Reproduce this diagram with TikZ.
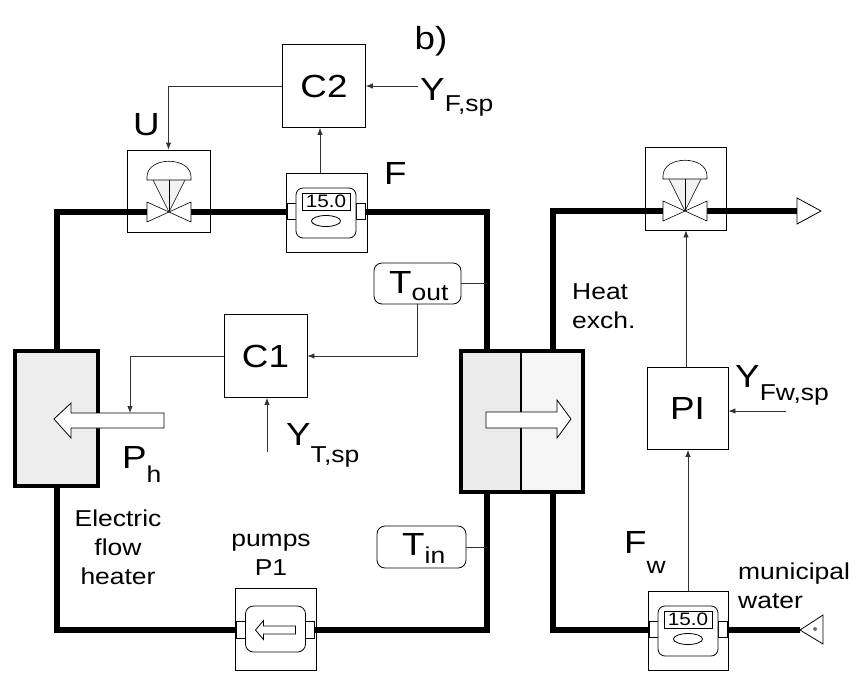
\documentclass[tikz,border=0pt]{standalone}
\usepackage{fontspec}
\setmainfont{Liberation Sans}[FakeStretch=1.15]
\usetikzlibrary{arrows.meta}
\newcommand\fbig{\fontsize{32}{32}\selectfont}
\newcommand\fmid{\fontsize{23}{29}\selectfont}
\newcommand\lowsub[2]{\raisebox{-#1pt}{\fontsize{23}{23}\selectfont #2}}
\tikzset{
  sig/.style={line width=0.8pt, draw=black!80},
  sigarrow/.style={sig, -{Latex[length=7pt,width=5.5pt]}},
  pipe/.style={line width=6.5pt},
  ctrl/.style={draw, line width=0.8pt, minimum width=83pt, minimum height=83pt, inner sep=0pt, font=\fbig},
  frame/.style={draw, line width=0.8pt, inner sep=0pt},
  tbox/.style={draw, line width=0.8pt, rounded corners=8pt, inner sep=0pt},
  lbl/.style={inner sep=0pt, font=\fbig},
  txt/.style={inner sep=0pt, font=\fmid},
  valvesym/.pic={
    \draw[line width=0.6pt, fill=black!5] (-16,-32) -- (0,0) -- (16,-32);
    \draw[line width=0.6pt] (0,-32) -- (0,0);
    \draw[line width=0.6pt, fill=white] (-22,-10) -- (-22,10) -- (0,0) -- cycle;
    \draw[line width=0.6pt, fill=white] (22,-10) -- (22,10) -- (0,0) -- cycle;
    \draw[line width=0.6pt, fill=white] (-22,-32) -- (-22,-35) .. controls (-22,-56) and (22,-56) .. (22,-35) -- (22,-32) -- cycle;
  },
  metersym/.pic={
    \draw[fill=white, line width=0.6pt] (-39,-9) rectangle (-30,7);
    \draw[fill=white, line width=0.6pt] (30,-9) rectangle (39,7);
    \draw[fill=white, line width=0.8pt, rounded corners=7pt] (-30,-24) rectangle (30,26);
    \draw[line width=0.8pt] (-24,-19) rectangle (24,-2);
    \node[inner sep=0pt, font=\fontsize{18}{18}\selectfont] (-disp) at (0,-10.5) {15.0};
    \draw[line width=0.8pt] (0,9) ellipse [x radius=14.5, y radius=5.5];
  },
  pumpsym/.pic={
    \draw[fill=white, line width=0.6pt] (-39,-9) rectangle (-30,8);
    \draw[fill=white, line width=0.6pt] (30,-9) rectangle (39,8);
    \draw[fill=white, line width=0.8pt, rounded corners=8pt] (-30,-24) rectangle (30,22);
    \draw[fill=white, line width=0.8pt] (-20,0) -- (-12,-9.5) -- (-12,-4) -- (20,-4) -- (20,4) -- (-12,4) -- (-12,9.5) -- cycle;
  },
}
\begin{document}
\begin{tikzpicture}[x=1pt,y=-1pt]
\useasboundingbox (0,0) rectangle (856,673);
% frames (unfilled)
\node[frame, minimum width=83pt, minimum height=82pt] (valveL) at (168.5,191) {};
\node[frame, minimum width=81pt, minimum height=83pt] (valveR) at (685.5,188.5) {};
\node[frame, minimum width=81pt, minimum height=79pt] (fmeter) at (326.5,212.5) {};
\node[frame, minimum width=81pt, minimum height=82pt] (pump) at (275.5,629) {};
\node[frame, minimum width=80pt, minimum height=79pt] (fwmeter) at (688,630.5) {};
% pipes
\coordinate (vLl) at (147,212); \coordinate (vLr) at (191,212);
\coordinate (fml) at (287,212); \coordinate (fmr) at (365,212);
\coordinate (pl) at (237,630); \coordinate (pr) at (313,630);
\coordinate (hTop) at (57,349); \coordinate (hBot) at (57,488);
\coordinate (xTopL) at (487,349); \coordinate (xBotL) at (487,494);
\coordinate (xTopR) at (553,349); \coordinate (xBotR) at (553,494);
\coordinate (vRl) at (663,211); \coordinate (vRr) at (707,211);
\coordinate (outTip) at (797,211);
\coordinate (fwl) at (648,630); \coordinate (fwr) at (728,630);
\coordinate (inTip) at (800,630);
\draw[pipe] (vLl) -| (hTop);
\draw[pipe] (hBot) |- (pl);
\draw[pipe] (pr) -| (xBotL);
\draw[pipe] (xTopL) |- (fmr);
\draw[pipe] (vLr) -- (fml);
\draw[pipe] (fwl) -| (xBotR);
\draw[pipe] (xTopR) |- (vRl);
\draw[pipe] (vRr) -- (outTip);
\draw[pipe] (fwr) -- (inTip);
% heater
\node[draw, line width=4pt, fill=black!7, minimum width=83pt, minimum height=135pt, inner sep=0pt] (heater) at (56.5,418.5) {};
% heat exchanger
\node[fill=black!4, minimum width=122pt, minimum height=141pt, inner sep=0pt] (hx) at (522,421.5) {};
\fill[black!8] (hx.north west) rectangle (521,492);
\draw[line width=3.5pt] (hx.north west) rectangle (hx.south east);
\draw[line width=2.5pt] (521,351) -- (521,492);
% big arrows
\draw[line width=0.8pt, fill=white] (54,419) -- (71,403) -- (71,413) -- (164,413) -- (164,428) -- (71,428) -- (71,438) -- cycle;
\draw[line width=0.8pt, fill=white] (571,419) -- (557,400) -- (557,412) -- (486,412) -- (486,428) -- (557,428) -- (557,438) -- cycle;
% end symbols
\draw[line width=0.8pt, fill=white] (797,198) -- (821,211) -- (797,224) -- cycle;
\draw[line width=0.8pt, fill=white] (inTip) -- (823,615) -- (823,644) -- cycle;
\fill[black!55] (815,629) circle [radius=2];
% symbols
\pic (vl) at (169,212) {valvesym};
\pic (vr) at (685,211) {valvesym};
\pic (fm) at (326,212) {metersym};
\pic (fw) at (688,630) {metersym};
\pic (pu) at (275.5,630) {pumpsym};
% controllers
\node[ctrl] (c2) at (324,86) {C2};
\node[ctrl] (c1) at (265.5,356) {C1};
\node[ctrl, minimum width=81pt, minimum height=82pt] (pi) at (687.5,408.5) {PI};
% temperature sensors
\node[tbox, minimum width=87pt, minimum height=41pt] (tout) at (417.5,283.5) {};
\node[tbox, minimum width=89pt, minimum height=42pt] (tin) at (421.5,547) {};
\node[lbl, anchor=base west] (toutlbl) at (389,293) {T\lowsub{7}{out}};
\node[lbl, anchor=base west] (tinlbl) at (402,555) {T\lowsub{8}{in}};
\coordinate (toutp) at (487,283.5);
\coordinate (tinp) at (487,547);
\draw[sig] (tout.east) -- (toutp);
\draw[sig] (tin.east) -- (tinp);
% signal lines
\coordinate (yfsp) at (418,86);
\coordinate (ytsp) at (267,452);
\coordinate (yfwsp) at (786,411);
\coordinate (harr) at (130,413);
\draw[sigarrow] (c2.west) -| (valveL.north);
\draw[sigarrow] (yfsp) -- (c2.east);
\draw[sigarrow] ([xshift=-6.5pt]fmeter.north) -- ([xshift=-6.5pt]fmeter.north |- c2.south);
\draw[sigarrow] (tout.south) |- (c1.east);
\draw[sigarrow] (c1.west) -| (harr);
\draw[sigarrow] (ytsp) -- (ytsp |- c1.south);
\draw[sigarrow] ([xshift=-1.5pt]pi.north) -- ([xshift=-1.5pt]pi.north |- valveR.south);
\draw[sigarrow] (fwmeter.north) -- (fwmeter.north |- pi.south);
\draw[sigarrow] (yfwsp) -- (yfwsp -| pi.east);
% labels
\node[inner sep=0pt, font=\fontsize{32}{32}\selectfont] (blbl) at (431,41) {b)};
\node[lbl, anchor=base west] (ulbl) at (133,135) {U};
\node[lbl, anchor=base west] (flbl) at (384,184) {F};
\node[lbl, anchor=base west] (yflbl) at (420,100) {Y\lowsub{11}{F,sp}};
\node[lbl, anchor=base west] (ytlbl) at (286,445) {Y\lowsub{17}{T,sp}};
\node[lbl, anchor=base west] (yfwlbl) at (735,387) {Y\lowsub{13}{Fw,sp}};
\node[lbl, anchor=base west] (phlbl) at (122,468) {P\lowsub{14}{h}};
\node[lbl, anchor=base west] (fwlbl) at (624,553) {F\lowsub{20}{w}};
\node[txt, anchor=north west, align=left] (hxlbl) at (572,283) {Heat\\exch.};
\node[txt, anchor=north, align=center] (heatlbl) at (118,510) {Electric\\flow\\heater};
\node[txt, anchor=north, align=center] (pumplbl) at (271,534) {pumps\\P1};
\node[txt, anchor=north west, align=left] (munlbl) at (738,563) {municipal\\water};
\end{tikzpicture}
\end{document}
